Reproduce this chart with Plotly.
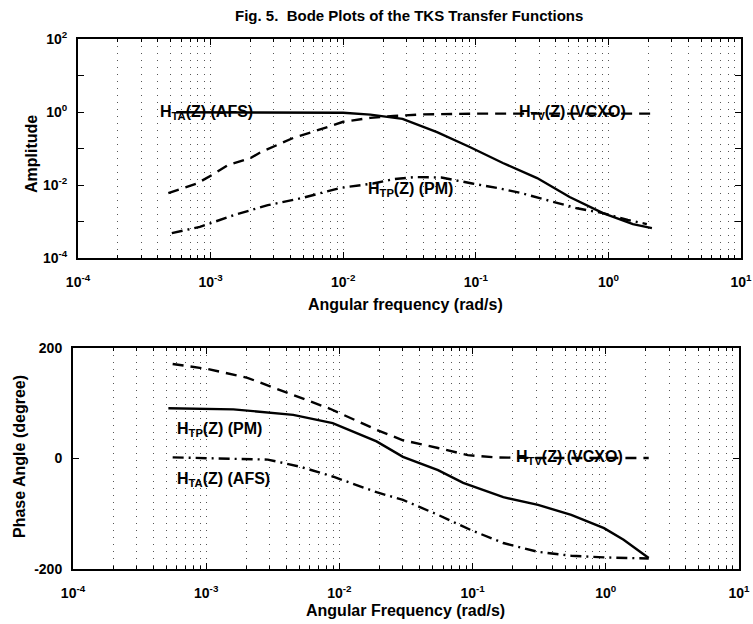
import numpy as np
import plotly.graph_objects as go

# ---------------- data ----------------
# Amplitude response (log-log)
w_amp_afs = [5.5e-4, 1e-3, 2e-3, 5e-3, 0.01, 0.016, 0.028, 0.051, 0.09, 0.16, 0.29, 0.51, 0.91, 1.53, 2.13]
amp_afs = [0.98, 0.98, 0.98, 0.97, 0.95, 0.85, 0.65, 0.28, 0.11, 0.040, 0.0155, 0.0047, 0.0017, 8.5e-4, 6.6e-4]

w_amp_vcxo = [4.8e-4, 7.9e-4, 1.03e-3, 1.35e-3, 2.0e-3, 2.4e-3, 3.2e-3, 4.2e-3, 5.8e-3, 7.6e-3,
              0.01, 0.016, 0.024, 0.04, 0.1, 0.3, 1.0, 2.1]
amp_vcxo = [0.006, 0.011, 0.019, 0.035, 0.055, 0.08, 0.126, 0.195, 0.28, 0.39,
            0.54, 0.69, 0.78, 0.86, 0.9, 0.9, 0.9, 0.9]

w_amp_pm = [5.1e-4, 8.3e-4, 1.5e-3, 2.7e-3, 4.9e-3, 6.9e-3, 9.5e-3, 0.0168, 0.024, 0.035,
            0.055, 0.094, 0.145, 0.22, 0.34, 0.58, 0.91, 1.4, 1.95]
amp_pm = [4.8e-4, 7.1e-4, 1.5e-3, 2.8e-3, 4.4e-3, 6.0e-3, 8.3e-3, 0.011, 0.0145, 0.0165,
          0.016, 0.011, 0.0083, 0.006, 0.0039, 0.0023, 0.0017, 0.0011, 8.5e-4]

# Phase response (degrees)
w_ph_vcxo = [5.6e-4, 1.03e-3, 2.04e-3, 4.5e-3, 8.5e-3, 0.019, 0.030, 0.055, 0.092, 0.15, 0.3, 1.0, 2.1]
ph_vcxo = [171, 162, 146, 115, 90, 52, 33, 19, 6, 2, 1, 1, 1]

w_ph_pm = [5.2e-4, 1.6e-3, 4.5e-3, 8.9e-3, 0.019, 0.030, 0.055, 0.085, 0.17, 0.31, 0.55, 0.97, 1.36, 2.1]
ph_pm = [91, 89, 79, 64, 31, 3, -21, -44, -70, -84, -102, -126, -147, -180]

w_ph_afs = [5.6e-4, 1e-3, 2.9e-3, 5.1e-3, 9e-3, 0.019, 0.030, 0.055, 0.096, 0.17, 0.31, 0.55, 0.97, 2.1]
ph_afs = [2, 1, -2, -15, -33, -61, -75, -102, -129, -153, -169, -176, -179, -181]

# Tick labels
freq_ticks = [1e-4, 1e-3, 1e-2, 1e-1, 1e0, 1e1]
freq_labels = ["10<sup>-4</sup>", "10<sup>-3</sup>", "10<sup>-2</sup>", "10<sup>-1</sup>",
               "10<sup>0</sup>", "10<sup>1</sup>"]
amp_ticks = [1e-4, 1e-3, 1e-2, 1e-1, 1e0, 1e1, 1e2]
amp_labels = ["10<sup>-4</sup>", "", "10<sup>-2</sup>", "", "10<sup>0</sup>", "", "10<sup>2</sup>"]
phase_ticks = [-200, 0, 200]
phase_labels = ["-200", "0", "200"]

# ---------------- styling ----------------
W, H = 753, 624
FONT = "Liberation Sans"
DASH = "11px,7px"
DASHDOT = "11px,5px,2px,5px"
GRID_DASH = "1px,6px"
GRID_COLOR = "#555555"


def line(dash):
    return dict(color="black", width=2.4, dash=dash)


fig = go.Figure()

fig.add_trace(go.Scatter(x=w_amp_afs, y=amp_afs, mode="lines", line=line("solid"),
                         xaxis="x", yaxis="y", name="H_TA (AFS)"))
fig.add_trace(go.Scatter(x=w_amp_vcxo, y=amp_vcxo, mode="lines", line=line(DASH),
                         xaxis="x", yaxis="y", name="H_TV (VCXO)"))
fig.add_trace(go.Scatter(x=w_amp_pm, y=amp_pm, mode="lines", line=line(DASHDOT),
                         xaxis="x", yaxis="y", name="H_TP (PM)"))

fig.add_trace(go.Scatter(x=w_ph_vcxo, y=ph_vcxo, mode="lines", line=line(DASH),
                         xaxis="x2", yaxis="y2", name="H_TV (VCXO)"))
fig.add_trace(go.Scatter(x=w_ph_pm, y=ph_pm, mode="lines", line=line("solid"),
                         xaxis="x2", yaxis="y2", name="H_TP (PM)"))
fig.add_trace(go.Scatter(x=w_ph_afs, y=ph_afs, mode="lines", line=line(DASHDOT),
                         xaxis="x2", yaxis="y2", name="H_TA (AFS)"))

tickfont = dict(family=FONT, size=14, color="black", weight="bold")


def px_x(p):
    return p / W


def px_y(p):
    return 1 - p / H


def freq_axis(dom, anchor):
    return dict(
        type="log", range=[-4, 1], domain=dom, anchor=anchor, automargin=False,
        tickmode="array", tickvals=freq_ticks, ticktext=freq_labels,
        ticks="inside", ticklen=6, tickwidth=1, tickcolor="black",
        showline=True, linecolor="black", linewidth=2, mirror="ticks",
        showgrid=True, gridcolor=GRID_COLOR, griddash=GRID_DASH, gridwidth=1,
        minor=dict(dtick="D1", ticks="inside", ticklen=3, tickcolor="black",
                   showgrid=True, gridcolor=GRID_COLOR, griddash=GRID_DASH, gridwidth=1),
        tickfont=tickfont, ticklabelstandoff=10, zeroline=False,
    )


fig.update_layout(
    template="none",
    width=W, height=H,
    margin=dict(l=0, r=0, t=0, b=0, autoexpand=False),
    paper_bgcolor="white", plot_bgcolor="white",
    showlegend=False,
    xaxis=freq_axis([px_x(78), px_x(741)], "y"),
    yaxis=dict(
        type="log", range=[-4, 2], domain=[px_y(258), px_y(39)], anchor="x", automargin=False,
        tickmode="array", tickvals=amp_ticks, ticktext=amp_labels,
        ticks="inside", ticklen=6, tickwidth=1, tickcolor="black",
        showline=True, linecolor="black", linewidth=2, mirror="ticks",
        showgrid=False, zeroline=False, tickfont=tickfont, ticklabelstandoff=6,
    ),
    xaxis2=freq_axis([px_x(73), px_x(739)], "y2"),
    yaxis2=dict(
        range=[-200, 200], domain=[px_y(569), px_y(348)], anchor="x2", automargin=False,
        tickmode="array", tickvals=phase_ticks, ticktext=phase_labels,
        ticks="inside", ticklen=6, tickwidth=1, tickcolor="black",
        showline=True, linecolor="black", linewidth=2, mirror="ticks",
        showgrid=False, zeroline=False, tickfont=tickfont, ticklabelstandoff=6,
    ),
)

textfont = dict(family=FONT, size=16, color="black", weight="bold")


def paper_text(text, x, y, size=16, angle=0):
    return dict(text=text, x=px_x(x), y=px_y(y), xref="paper", yref="paper",
                xanchor="center", yanchor="middle", textangle=angle, showarrow=False,
                font=dict(family=FONT, size=size, color="black", weight="bold"))


def curve_text(text, x, y, axis):
    return dict(text=text, x=x, y=y, xref="x" + axis, yref="y" + axis,
                xanchor="left", yanchor="middle", showarrow=False, font=textfont)


annotations = [
    # figure title and axis titles
    paper_text("Fig. 5.  Bode Plots of the TKS Transfer Functions", 409, 15, size=15),
    paper_text("Angular frequency (rad/s)", 405, 304),
    paper_text("Amplitude", 31, 154, angle=-90),
    paper_text("Angular Frequency (rad/s)", 405, 610),
    paper_text("Phase Angle (degree)", 20, 457, angle=-90),
    # curve labels, top panel
    curve_text("H<sub>TA</sub>(Z) (AFS)", np.log10(4.0e-4), 0.0, ""),
    curve_text("H<sub>TV</sub>(Z) (VCXO)", np.log10(0.205), 0.0, ""),
    curve_text("H<sub>TP</sub>(Z) (PM)", np.log10(0.0148), -2.12, ""),
    # curve labels, bottom panel
    curve_text("H<sub>TP</sub>(Z) (PM)", np.log10(5.8e-4), 52, "2"),
    curve_text("H<sub>TA</sub>(Z) (AFS)", np.log10(5.8e-4), -38, "2"),
    curve_text("H<sub>TV</sub>(Z) (VCXO)", np.log10(0.205), 2, "2"),
]
fig.update_layout(annotations=annotations)

fig.write_html("out.html")
